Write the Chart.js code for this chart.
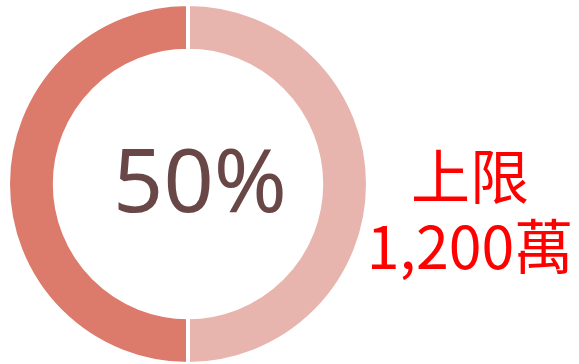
<!DOCTYPE html>
<html>
<head>
<meta charset="utf-8">
<script src="https://cdn.jsdelivr.net/npm/chart.js@4/dist/chart.umd.min.js"></script>
<style>
  html, body { margin: 0; padding: 0; background: #fff; overflow: hidden; }
  body { width: 579px; height: 364px; position: relative; }
  #ring { position: absolute; left: 6px; top: 2px; width: 364px; height: 364px; }
  .pct {
    position: absolute; left: 88px; top: 118px; width: 224px; text-align: center;
    font-family: "Noto Sans", sans-serif; font-size: 88px; line-height: 120px;
    color: #6a4747;
  }
  .cap {
    position: absolute; left: 362px; width: 216px; text-align: center;
    font-family: "Noto Sans CJK TC", sans-serif; font-size: 59px; line-height: 70px;
    color: #ff0000;
  }
</style>
</head>
<body>
<div id="ring"><canvas id="chart"></canvas></div>
<div class="pct" id="pct"></div>
<div class="cap" id="cap1" style="top:139px"></div>
<div class="cap" id="cap2" style="top:209px"></div>
<script>
// progress ring: used share vs remaining
const labels = ["已使用", "剩餘"];
const values = [50, 50];
const colors = ["#dc7b6b", "#e8b5ae"];
const limitTitle = "上限";
const limitValue = "1,200萬";

const pct = Math.round(values[0] / (values[0] + values[1]) * 100);
document.getElementById("pct").textContent = pct + "%";
document.getElementById("cap1").textContent = limitTitle;
document.getElementById("cap2").textContent = limitValue;

new Chart(document.getElementById("chart"), {
  type: "doughnut",
  data: {
    labels,
    datasets: [{ data: values, backgroundColor: colors, borderColor: "#ffffff", borderWidth: 4 }],
  },
  options: {
    responsive: true, maintainAspectRatio: false,
    animation: false,
    cutout: "74%",
    rotation: 180,
    plugins: { legend: { display: false }, tooltip: { enabled: false } },
    layout: { padding: 0 },
  },
});
</script>
</body>
</html>
